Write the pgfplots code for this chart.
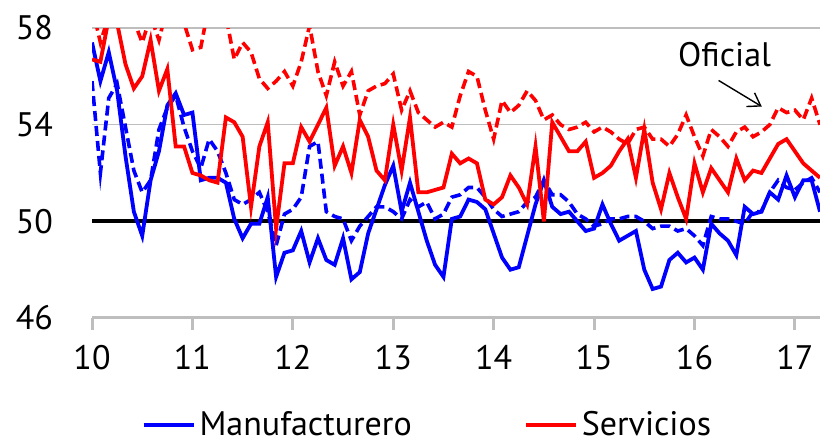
\documentclass[border=0pt]{standalone}
\usepackage{fontspec}
\setmainfont{PT Sans}
\usepackage{pgfplots}
\usepackage{pgfplotstable}
\pgfplotsset{compat=1.18}
\usetikzlibrary{arrows.meta}
\definecolor{gridgray}{RGB}{190,190,190}
\newcommand{\lbl}{\fontsize{17}{20}\selectfont}

% i = month index from Jan 2010; cm/cs = PMI manufacturero/servicios, om/os = oficial
\pgfplotstableread{
i cm om cs os
0 57.4 55.8 56.7 58.9
1 55.8 52.0 56.6 57.4
2 57.0 55.1 58.4 58.5
3 55.4 55.7 58.2 59.5
4 52.7 53.9 56.5 59.0
5 50.4 52.1 55.5 58.3
6 49.4 51.2 56.0 57.4
7 51.7 51.7 57.5 58.5
8 52.9 53.8 55.4 57.5
9 54.8 54.7 56.3 58.9
10 55.3 55.2 53.1 59.0
11 54.4 53.9 53.1 58.2
12 54.5 52.9 52.0 57.1
13 51.7 52.2 51.9 57.2
14 51.8 53.4 51.7 59.0
15 51.8 52.9 51.6 59.5
16 51.6 52.0 54.3 58.5
17 50.1 50.9 54.1 56.7
18 49.3 50.7 53.5 57.4
19 49.9 50.9 50.6 57.0
20 49.9 51.2 53.1 55.9
21 51.0 50.4 54.1 55.5
22 47.7 49.0 49.7 55.8
23 48.7 50.3 52.4 56.2
24 48.8 50.5 52.4 55.6
25 49.6 51.0 53.9 56.6
26 48.3 53.1 53.3 58.1
27 49.3 53.3 54.0 56.2
28 48.4 50.4 54.7 55.2
29 48.2 50.2 52.3 56.6
30 49.3 50.1 53.1 55.6
31 47.6 49.2 52.0 56.2
32 47.9 49.8 54.2 54.4
33 49.5 50.2 53.5 55.4
34 50.5 50.6 52.1 55.6
35 51.5 50.6 51.7 55.7
36 52.3 50.4 54.0 56.1
37 50.4 50.1 52.1 54.6
38 51.6 50.9 54.3 55.4
39 50.4 50.6 51.2 54.5
40 49.2 50.8 51.2 54.2
41 48.2 50.1 51.3 53.9
42 47.7 50.3 51.4 54.1
43 50.1 51.0 52.8 53.9
44 50.2 51.1 52.4 55.2
45 50.9 51.4 52.6 56.2
46 50.8 51.4 52.4 56.0
47 50.5 51.0 50.9 54.6
48 49.5 50.5 50.7 53.4
49 48.5 50.2 51.0 55.0
50 48.0 50.3 51.9 54.5
51 48.1 50.4 51.4 54.8
52 49.4 50.8 50.7 55.4
53 50.7 51.0 53.1 55.0
54 51.7 51.7 50.0 54.2
55 50.6 51.1 54.1 54.4
56 50.3 51.1 53.5 54.0
57 50.4 50.8 52.9 53.8
58 50.0 50.3 52.9 53.9
59 49.6 50.1 53.3 54.1
60 49.7 49.8 51.8 53.7
61 50.7 49.9 52.0 53.9
62 49.9 50.1 52.3 53.7
63 49.2 50.1 52.9 53.4
64 49.4 50.2 53.4 53.2
65 49.6 50.2 51.8 53.8
66 48.0 50.0 53.8 53.9
67 47.2 49.7 51.6 53.4
68 47.3 49.8 50.5 53.4
69 48.4 49.8 52.0 53.1
70 48.7 49.6 51.0 53.6
71 48.3 49.7 50.1 54.4
72 48.5 49.4 52.4 53.5
73 48.0 49.0 51.2 52.7
74 49.9 50.2 52.2 53.8
75 49.5 50.1 51.7 53.5
76 49.2 50.1 51.2 53.1
77 48.6 50.0 52.6 53.7
78 50.6 49.9 51.7 53.9
79 50.3 50.4 52.1 53.5
80 50.4 50.4 52.0 53.7
81 51.2 51.2 52.6 54.0
82 50.9 51.7 53.2 54.7
83 51.9 51.4 53.4 54.5
84 51.0 51.3 52.9 54.6
85 51.7 51.6 52.4 54.2
86 51.7 51.8 52.1 55.1
87 50.4 51.2 51.8 54.0
}\pmi

\begin{document}
\begin{tikzpicture}
\begin{axis}[
  scale only axis,
  width=364pt, height=145pt,
  xmin=10, xmax=17.25, ymin=46, ymax=58,
  axis x line*=bottom, axis y line*=left,
  y axis line style={draw=none},
  x axis line style={gridgray, line width=1.5pt},
  xtick={10,...,17}, ytick={46,50,54,58},
  tick align=outside,
  major tick length=6pt,
  xtick style={gridgray, line width=1.5pt},
  ytick style={draw=none},
  ymajorgrids, grid style={gridgray, line width=0.8pt},
  /pgf/number format/assume math mode=true,
  tick label style={font=\lbl},
  xticklabel style={yshift=-4pt},
  yticklabel style={xshift=-10pt},
  legend style={at={(0.462,-0.369)}, anchor=center, draw=none, font=\lbl,
    legend columns=2, /tikz/every even column/.append style={column sep=54pt}},
  legend image code/.code={\draw[#1, line width=2pt] (0pt,0pt) -- (25pt,0pt);},
]
\addplot[black, line width=2pt, forget plot] coordinates {(10,50) (17.25,50)};
\addplot[blue, line width=1.8pt, dash pattern=on 5pt off 2.5pt, forget plot]
  table[x expr=10+\thisrow{i}/12, y=om] {\pmi};
\addplot[red, line width=1.8pt, dash pattern=on 5pt off 2.5pt, forget plot]
  table[x expr=10+\thisrow{i}/12, y=os] {\pmi};
\addplot[blue, line width=1.9pt] table[x expr=10+\thisrow{i}/12, y=cm] {\pmi};
\addlegendentry{Manufacturero}
\addplot[red, line width=1.9pt] table[x expr=10+\thisrow{i}/12, y=cs] {\pmi};
\addlegendentry{Servicios}
\node[font=\lbl] at (axis cs:16.3,56.9) {Oficial};
\draw[-{Straight Barb[length=6pt,width=8pt]}, line width=0.7pt]
  (axis cs:16.24,55.83) -- (axis cs:16.67,54.75);
\coordinate (bbsw) at (rel axis cs:-0.1264,-0.431);
\coordinate (bbne) at (rel axis cs:1,1.0966);
\end{axis}
\pgfresetboundingbox
\useasboundingbox (bbsw) rectangle (bbne);
\end{tikzpicture}
\end{document}
